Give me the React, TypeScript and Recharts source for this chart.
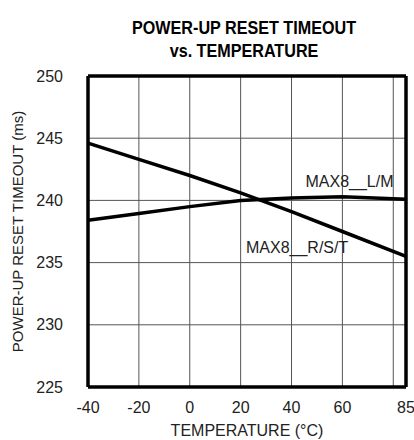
import {
  LineChart,
  Line,
  XAxis,
  YAxis,
  CartesianGrid,
  ReferenceLine,
  ReferenceDot,
} from "recharts";

const temperatures = [-40, -20, 0, 20, 40, 60, 85];
const timeoutLM = [238.4, 238.95, 239.5, 240.0, 240.2, 240.3, 240.1];
const timeoutRST = [244.6, 243.3, 242.0, 240.6, 239.1, 237.5, 235.5];

const xTicks = [-40, -20, 0, 20, 40, 60, 80, 85];
const xTickLabels = ["-40", "-20", "0", "20", "40", "60", "", "85"];
const yTicks = [225, 230, 235, 240, 245, 250];

const FONT = '"Liberation Sans Narrow", "Arial Narrow", "Liberation Sans", Arial, sans-serif';

const data = temperatures.map((t, i) => ({
  temp: t,
  lm: timeoutLM[i],
  rst: timeoutRST[i],
}));

export default function App() {
  return (
    <div style={{ position: "absolute", left: 0, top: 0, width: 414, height: 440, background: "#fff" }}>
      <div
        style={{
          position: "absolute",
          left: 94,
          top: 16,
          width: 300,
          textAlign: "center",
          fontFamily: FONT,
          fontWeight: "bold",
          fontSize: 19,
          lineHeight: "23px",
          color: "#000",
          transform: "scaleX(0.85)",
          transformOrigin: "center",
        }}
      >
        POWER-UP RESET TIMEOUT
        <br />
        vs. TEMPERATURE
      </div>
      <LineChart
        width={414}
        height={440}
        data={data}
        margin={{ top: 76, right: 8, bottom: 0, left: 0 }}
        style={{ fontFamily: FONT }}
      >
        <CartesianGrid stroke="#555" strokeWidth={1} />
        <XAxis
          dataKey="temp"
          type="number"
          domain={[-40, 85]}
          ticks={xTicks}
          tickFormatter={(v: number) => xTickLabels[xTicks.indexOf(v)]}
          interval={0}
          height={53}
          tickSize={0}
          tickMargin={15}
          tick={{ fill: "#222", fontSize: 16 }}
          axisLine={{ stroke: "#000", strokeWidth: 3.5 }}
          label={{ value: "TEMPERATURE (°C)", position: "insideBottom", offset: 4, fill: "#222", fontSize: 16 }}
        />
        <YAxis
          type="number"
          domain={[225, 250]}
          ticks={yTicks}
          width={88}
          tickSize={0}
          tickMargin={25}
          tick={{ fill: "#222", fontSize: 16 }}
          axisLine={{ stroke: "#000", strokeWidth: 3.5 }}
          label={{
            value: "POWER-UP RESET TIMEOUT (ms)",
            angle: -90,
            position: "insideLeft",
            offset: 18,
            fill: "#222",
            fontSize: 15,
            style: { textAnchor: "middle" },
          }}
        />
        <ReferenceLine y={250} stroke="#000" strokeWidth={3.5} />
        <ReferenceLine x={85} stroke="#000" strokeWidth={3.5} />
        <Line dataKey="lm" stroke="#000" strokeWidth={3.5} dot={false} isAnimationActive={false} />
        <Line dataKey="rst" stroke="#000" strokeWidth={3.5} dot={false} isAnimationActive={false} />
        <ReferenceDot
          x={62.8}
          y={241.5}
          r={0}
          stroke="none"
          label={{ value: "MAX8__L/M", position: "center", fill: "#222", fontSize: 16 }}
        />
        <ReferenceDot
          x={42.2}
          y={236.2}
          r={0}
          stroke="none"
          label={{ value: "MAX8__R/S/T", position: "center", fill: "#222", fontSize: 16 }}
        />
      </LineChart>
    </div>
  );
}
